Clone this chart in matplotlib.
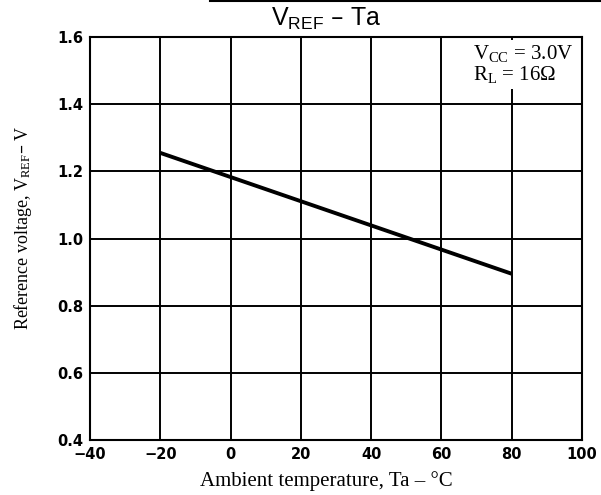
import matplotlib
matplotlib.use("Agg")
import matplotlib.pyplot as plt
from matplotlib.lines import Line2D

# reference voltage vs ambient temperature
temp = [-20, 80]
vref = [1.255, 0.895]

xticks = [-40, -20, 0, 20, 40, 60, 80, 100]
yticks = [0.4, 0.6, 0.8, 1.0, 1.2, 1.4, 1.6]

fig = plt.figure(figsize=(6.01, 4.95), dpi=100)
ax = fig.add_axes([0.1498, 0.1111, 0.8186, 0.8141])

ax.plot(temp, vref, color="black", lw=2.8, solid_capstyle="butt", zorder=3)

ax.set_xlim(-40, 100)
ax.set_ylim(0.4, 1.6)
ax.set_xticks(xticks)
ax.set_yticks(yticks)
ax.set_xticklabels([str(t).replace("-", "\u2212") for t in xticks],
                   fontsize=10.5, fontweight="bold", family="DejaVu Sans")
ax.set_yticklabels([f"{v:.1f}" for v in yticks],
                   fontsize=10.5, fontweight="bold", family="DejaVu Sans")
ax.tick_params(length=0, pad=5)
ax.grid(True, color="black", lw=1.4)
for s in ax.spines.values():
    s.set_linewidth(1.5)

ax.set_xlabel("Ambient temperature, Ta \u2013 \u00b0C", family="Liberation Serif",
              fontsize=15)
ax.xaxis.set_label_coords(0.48, -0.077)
ax.set_ylabel("Reference voltage, $\\mathregular{V_{REF}}$\u2013 V",
              family="Liberation Serif", fontsize=13)
ax.yaxis.set_label_coords(-0.113, 0.526)
ax.set_title("$\\mathregular{V_{REF}}$ \u2013 Ta", family="Liberation Sans",
             fontsize=18, x=0.48, pad=8)

ax.text(0.778, 0.985,
        "$\\mathregular{V_{CC}}$ = 3.0V\n$\\mathregular{R_L}$ = 16\u03a9",
        transform=ax.transAxes, ha="left", va="top", family="Liberation Serif",
        fontsize=15, linespacing=1.0,
        bbox=dict(facecolor="white", edgecolor="none", pad=2.5), zorder=4)

# rule along the top edge of the page
fig.add_artist(Line2D([0.35, 1.0], [0.997, 0.997], color="black", lw=1.5,
                      transform=fig.transFigure))

fig.savefig("out.png", dpi=100, facecolor="white")
